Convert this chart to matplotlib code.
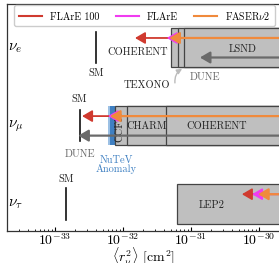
import numpy as np
import matplotlib
matplotlib.use('Agg')
import matplotlib.pyplot as plt
from matplotlib.patches import Rectangle, FancyArrowPatch
from matplotlib.lines import Line2D
import matplotlib.transforms as mtransforms

plt.rcParams['font.family'] = 'cmr10'
plt.rcParams['mathtext.fontset'] = 'cm'
plt.rcParams['axes.formatter.use_mathtext'] = True

# rows: nu_e, nu_mu, nu_tau (y = 2, 1, 0)
flavours = [r'$\nu_e$', r'$\nu_\mu$', r'$\nu_\tau$']
row_y = [2, 1, 0]

sm = [4.0e-33, 2.3e-33, 1.45e-33]
flare100 = [1.5e-32, 2.5e-33, 5.6e-31]
flare = [4.4e-32, 6.0e-33, 7.9e-31]
faser2 = [4.8e-32, 6.45e-33, 9.7e-31]
dune = [1.35e-31, 2.2e-33]

nue_exp = ['COHERENT', 'TEXONO', 'LSND']
nue_lim = [5.0e-32, 6.5e-32, 8.0e-32]
numu_exp = ['CCFR', 'CHARM', 'COHERENT']
numu_lim = [7.6e-33, 1.15e-32, 4.3e-32]
nutev = [6.0e-33, 7.6e-33]
nutau_exp = ['LEP2']
nutau_lim = [6.2e-32]

xmax = 1e-28
box_h = 0.25

fig = plt.figure(figsize=(2.79, 2.63), dpi=100)
ax = fig.add_axes([7/279, 32/263, 272/279, 227/263])
ax.set_xscale('log')
ax.set_xlim(10**-33.706, 10**-29.706)
ax.set_ylim(-0.346, 2.56)

grey_fill = '#bfbfbf'
edge = '#444444'

def boxes(lims, y):
    for lo in lims:
        ax.add_patch(Rectangle((lo, y - box_h), xmax - lo, 2*box_h,
                               facecolor=grey_fill, edgecolor=edge, lw=0.9, zorder=1))

# NuTeV band
ax.add_patch(Rectangle((nutev[0], 1 - box_h), nutev[1] - nutev[0], 2*box_h,
                       facecolor='#9cc0e4', edgecolor='none', zorder=1))
ax.add_patch(Rectangle((nutev[0]*1.06, 1 - box_h), nutev[1] - nutev[0]*1.06, 2*box_h,
                       facecolor='#3f80c2', edgecolor='none', zorder=1))
boxes(nue_lim, 2)
boxes(numu_lim, 1)
boxes(nutau_lim, 0)

# SM lines
for s, y in zip(sm, row_y):
    ax.plot([s, s], [y - 0.2, y + 0.2], color='#111111', lw=1.2, zorder=3)

def arrow(tip, y, c, lw=1.3):
    a = FancyArrowPatch((xmax, y), (tip, y),
                        arrowstyle='-|>,head_length=0.6,head_width=0.35',
                        mutation_scale=10, color=c, lw=lw,
                        shrinkA=0, shrinkB=0, zorder=4)
    ax.add_patch(a)

c_red = '#d03a2f'
c_mag = '#f03cf0'
c_orn = '#f08a3c'
c_dune = '#6a6a6a'

for i, y in enumerate(row_y):
    arrow(flare100[i], y + 0.125, c_red)
    arrow(flare[i], y + 0.125, c_mag)
    arrow(faser2[i], y + 0.125, c_orn, lw=1.6)
for i in range(2):
    arrow(dune[i], row_y[i] - 0.125, c_dune, lw=1.6)

fs = 7.5
# nu_e labels
ax.text(4.6e-32, 1.94, 'COHERENT', fontsize=fs, ha='right', va='center', color='#222222')
ax.text(5.8e-31, 1.98, 'LSND', fontsize=fs, ha='center', va='center', color='#222222')
ax.text(1.6e-31, 1.62, 'DUNE', fontsize=fs, ha='center', va='center', color='#666666')
ax.text(2.25e-32, 1.52, 'TEXONO', fontsize=fs, ha='center', va='center', color='#222222')
ax.annotate('', xy=(7.4e-32, 1.73), xytext=(5.8e-32, 1.55),
            arrowprops=dict(arrowstyle='-|>,head_length=0.3,head_width=0.15',
                            color='#bbbbbb', lw=1.0, connectionstyle='arc3,rad=-0.3',
                            shrinkA=0, shrinkB=0))
ax.text(sm[0], 1.67, 'SM', fontsize=fs, ha='center', va='center', color='#222222')

# nu_mu labels
ax.text(9.0e-33, 0.98, 'CCFR', fontsize=fs, ha='center', va='center', rotation=90, color='#222222')
ax.text(2.25e-32, 0.99, 'CHARM', fontsize=fs, ha='center', va='center', color='#222222')
ax.text(2.4e-31, 0.99, 'COHERENT', fontsize=fs, ha='center', va='center', color='#222222')
ax.text(2.3e-33, 0.635, 'DUNE', fontsize=fs, ha='center', va='center', color='#666666')
ax.text(7.9e-33, 0.5, 'NuTeV\nAnomaly', fontsize=fs, ha='center', va='center',
        color='#3f80c2', linespacing=0.9)
ax.text(sm[1], 1.34, 'SM', fontsize=fs, ha='center', va='center', color='#222222')

# nu_tau labels
ax.text(2.0e-31, -0.01, 'LEP2', fontsize=fs, ha='center', va='center', color='#222222')
ax.text(sm[2], 0.32, 'SM', fontsize=fs, ha='center', va='center', color='#222222')

# flavour labels inside the axes
trans = mtransforms.blended_transform_factory(ax.transAxes, ax.transData)
for lab, y in zip(flavours, row_y):
    ax.text(0.005, y, lab, transform=trans, fontsize=11, ha='left', va='center')

ax.set_yticks([])
ax.tick_params(axis='x', which='both', direction='in', labelsize=10, pad=0.8)
ax.tick_params(axis='x', which='major', length=3)
ax.tick_params(axis='x', which='minor', length=1.5)
ax.spines['right'].set_visible(False)
for s in ['left', 'top', 'bottom']:
    ax.spines[s].set_color('#333333')
    ax.spines[s].set_linewidth(0.9)
ax.set_xlabel(r'$\langle r_\nu^2\rangle$ [cm$^2$]', fontsize=10, labelpad=-1.5)

handles = [Line2D([], [], color=c_red, lw=1.5),
           Line2D([], [], color=c_mag, lw=1.5),
           Line2D([], [], color=c_orn, lw=1.5)]
labels = ['FLArE 100', 'FLArE', r'FASER$\nu$2']
leg = ax.legend(handles, labels, ncol=3, loc='upper left', mode='expand',
                bbox_to_anchor=(7/272, 0.0, 261/272, 226/227), borderaxespad=0,
                fontsize=7.2, handlelength=2.3, frameon=True, fancybox=True,
                edgecolor='#cccccc', framealpha=1, borderpad=0.45, columnspacing=1.0)

fig.savefig('out.png', dpi=100)
